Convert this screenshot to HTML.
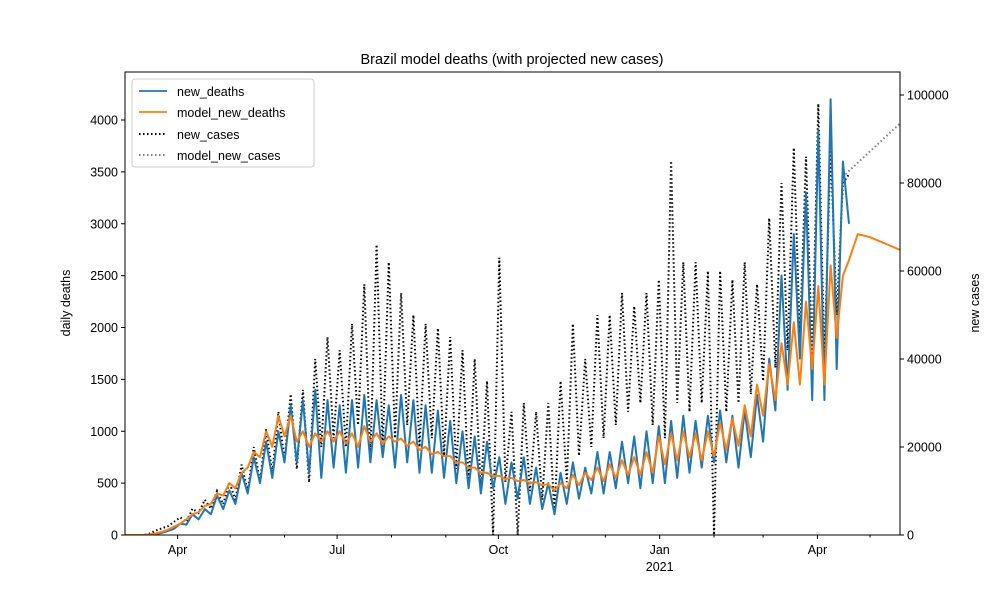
<!DOCTYPE html>
<html><head><meta charset="utf-8"><style>
body{margin:0;background:#fff;}
svg{font-family:"Liberation Sans","DejaVu Sans",sans-serif;}
</style></head><body>
<svg id="chart" width="1000" height="600" viewBox="0 0 1000 600" xmlns="http://www.w3.org/2000/svg">
<rect width="1000" height="600" fill="#fff"/>
<text x="512" y="64" text-anchor="middle" font-size="14.5">Brazil model deaths (with projected new cases)</text>
<text transform="translate(70,303) rotate(-90)" text-anchor="middle" font-size="12.5">daily deaths</text>
<text transform="translate(979,303) rotate(-90)" text-anchor="middle" font-size="12.5">new cases</text>
<g id="plot"></g>
<g id="axes"></g>
<g id="legend">
<rect x="132" y="79" width="182" height="88" rx="3" fill="#fff" fill-opacity="0.85" stroke="#ccc"/>
<g><line x1="139" y1="91" x2="167" y2="91" stroke="#1f77b4" stroke-width="1.8"/><text x="177" y="96" font-size="12.5">new_deaths</text></g>
<g><line x1="139" y1="112" x2="167" y2="112" stroke="#ff7f0e" stroke-width="1.8"/><text x="177" y="117" font-size="12.5">model_new_deaths</text></g>
<g><line x1="139" y1="134" x2="167" y2="134" stroke="#000" stroke-width="2" stroke-dasharray="1.5,2.5"/><text x="177" y="139" font-size="12.5">new_cases</text></g>
<g><line x1="139" y1="155" x2="167" y2="155" stroke="#808080" stroke-width="2" stroke-dasharray="1.5,2.5"/><text x="177" y="160" font-size="12.5">model_new_cases</text></g>
</g>
</svg>
<script>
// semi-weekly samples starting 2020-03-02, 3.5 days apart
const newDeaths = [0,0,0,0,2,10,20,40,60,110,
100,200,150,250,200,380,250,430,
300,600,400,750,500,900,550,1000,700,
1250,700,1300,600,1400,550,1300,650,
1250,600,1300,650,1350,700,1300,750,1250,
650,1350,700,1300,600,1250,600,1200,550,
1100,500,1000,450,950,400,900,450,
750,300,700,350,750,300,650,250,500,
200,600,300,700,350,650,400,800,400,
800,450,900,500,950,450,1000,500,1050,
500,1100,550,1150,600,1100,650,1150,700,
1200,700,1150,650,1200,750,1350,900,
1700,1200,2500,1400,2900,1700,3300,1300,3900,
1300,4200,1600,3600,3000];
const newCasesK = [0,0,0,0,0.3,1,1.5,2,3,4,
3,6,5,8,6,10,7,12,
8,16,10,20,12,24,14,28,17,
32,15,33,12,40,20,45,22,
42,20,48,25,57,18,66,20,62,
22,55,25,50,20,48,22,47,18,
45,15,42,12,40,10,35,0,
63,12,28,0,30,10,28,8,30,
5,35,12,48,18,40,20,50,22,
50,25,55,28,52,30,55,25,58,
22,85,30,62,28,62,30,60,0,
60,28,58,30,62,32,57,35,
72,38,80,42,88,45,86,40,98,
40,88,50,80,82];
const modelDeaths = [0,0,0,0,5,15,30,50,80,110,
150,200,220,280,300,400,380,500,
450,600,650,800,750,1000,850,1150,950,
1150,900,1000,850,980,900,1000,900,
1000,880,980,850,1050,900,980,880,950,
900,930,860,900,820,850,780,800,760,
760,700,700,650,650,600,600,570,
570,540,550,520,530,500,510,480,490,
430,500,450,580,480,600,530,650,520,
680,550,720,580,750,580,800,600,950,
680,980,720,1000,750,980,720,1000,760,
1080,820,1120,860,1250,950,1450,1150,
1650,1300,1850,1450,2050,1450,2250,1600,2400,
1450,2600,1900,2500];
const projDays = [413,418,425,442];
const projDeaths = [2650,2900,2870,2750];
const modelCaseDays = [411,442];
const modelCasesK = [82,93.5];
const leftTicks = [0,500,1000,1500,2000,2500,3000,3500,4000];
const rightTicks = [0,20000,40000,60000,80000,100000];
const monthLabels = ["Apr","Jul","Oct","Jan","Apr"];
const monthDays = [30,121,213,305,395];
const minorDays = [60,91,152,183,244,274,336,364,425];

const X0=125,X1=900,Y0=535,Y1=72;
const xS=d=>X0+d*1.753;
const yL=v=>Y0-v*0.10375;
const yR=v=>Y0-v*0.0044;
const NS="http://www.w3.org/2000/svg";
const plot=document.getElementById('plot'), axes=document.getElementById('axes');
function mk(tag,attrs,parent){const e=document.createElementNS(NS,tag);for(const k in attrs)e.setAttribute(k,attrs[k]);parent.appendChild(e);return e;}
const clip=mk('clipPath',{id:'cp'},plot);mk('rect',{x:X0,y:Y1,width:X1-X0,height:Y0-Y1},clip);
const g=mk('g',{'clip-path':'url(#cp)'},plot);
function pts(days,vals,ys){return vals.map((v,i)=>xS(days[i]).toFixed(1)+','+ys(v).toFixed(1)).join(' ');}
const semi=n=>Array.from({length:n},(_,i)=>i*3.5);

let p=mk('polyline',{points:pts(semi(newCasesK.length),newCasesK.map(v=>v*1000),yR),fill:'none',stroke:'#000','stroke-width':2,'stroke-dasharray':'1.5,2.5'},g);


p=mk('polyline',{points:pts(modelCaseDays,modelCasesK.map(v=>v*1000),yR),fill:'none',stroke:'#808080','stroke-width':2,'stroke-dasharray':'1.5,2.5'},g);


p=mk('polyline',{points:pts(semi(newDeaths.length),newDeaths,yL),fill:'none',stroke:'#1f77b4','stroke-width':2,'stroke-linejoin':'round'},g);


const mdDays=semi(modelDeaths.length).concat(projDays);
p=mk('polyline',{points:pts(mdDays,modelDeaths.concat(projDeaths),yL),fill:'none',stroke:'#ff7f0e','stroke-width':2,'stroke-linejoin':'round'},g);



mk('rect',{x:X0,y:Y1,width:X1-X0,height:Y0-Y1,fill:'none',stroke:'#000','stroke-width':1},axes);
leftTicks.forEach(v=>{const y=yL(v);mk('line',{x1:X0-4,x2:X0,y1:y,y2:y,stroke:'#000'},axes);
 const t=mk('text',{x:X0-7,y:y+4.5,'text-anchor':'end','font-size':12.5},axes);t.textContent=v;
 
 });
rightTicks.forEach(v=>{const y=yR(v);mk('line',{x1:X1,x2:X1+4,y1:y,y2:y,stroke:'#000'},axes);
 const t=mk('text',{x:X1+7,y:y+4.5,'font-size':12.5},axes);t.textContent=v;
 
 });
monthDays.forEach((d,i)=>{const x=xS(d);mk('line',{x1:x,x2:x,y1:Y0,y2:Y0+4,stroke:'#000'},axes);
 const t=mk('text',{x:x,y:Y0+19,'text-anchor':'middle','font-size':12.5},axes);t.textContent=monthLabels[i];
 
 });
const yr=mk('text',{x:xS(305),y:Y0+36,'text-anchor':'middle','font-size':12.5},axes);yr.textContent='2021';


minorDays.forEach(d=>{const x=xS(d);if(x<X1)mk('line',{x1:x,x2:x,y1:Y0,y2:Y0+2.5,stroke:'#000'},axes);});
</script>
</body></html>
